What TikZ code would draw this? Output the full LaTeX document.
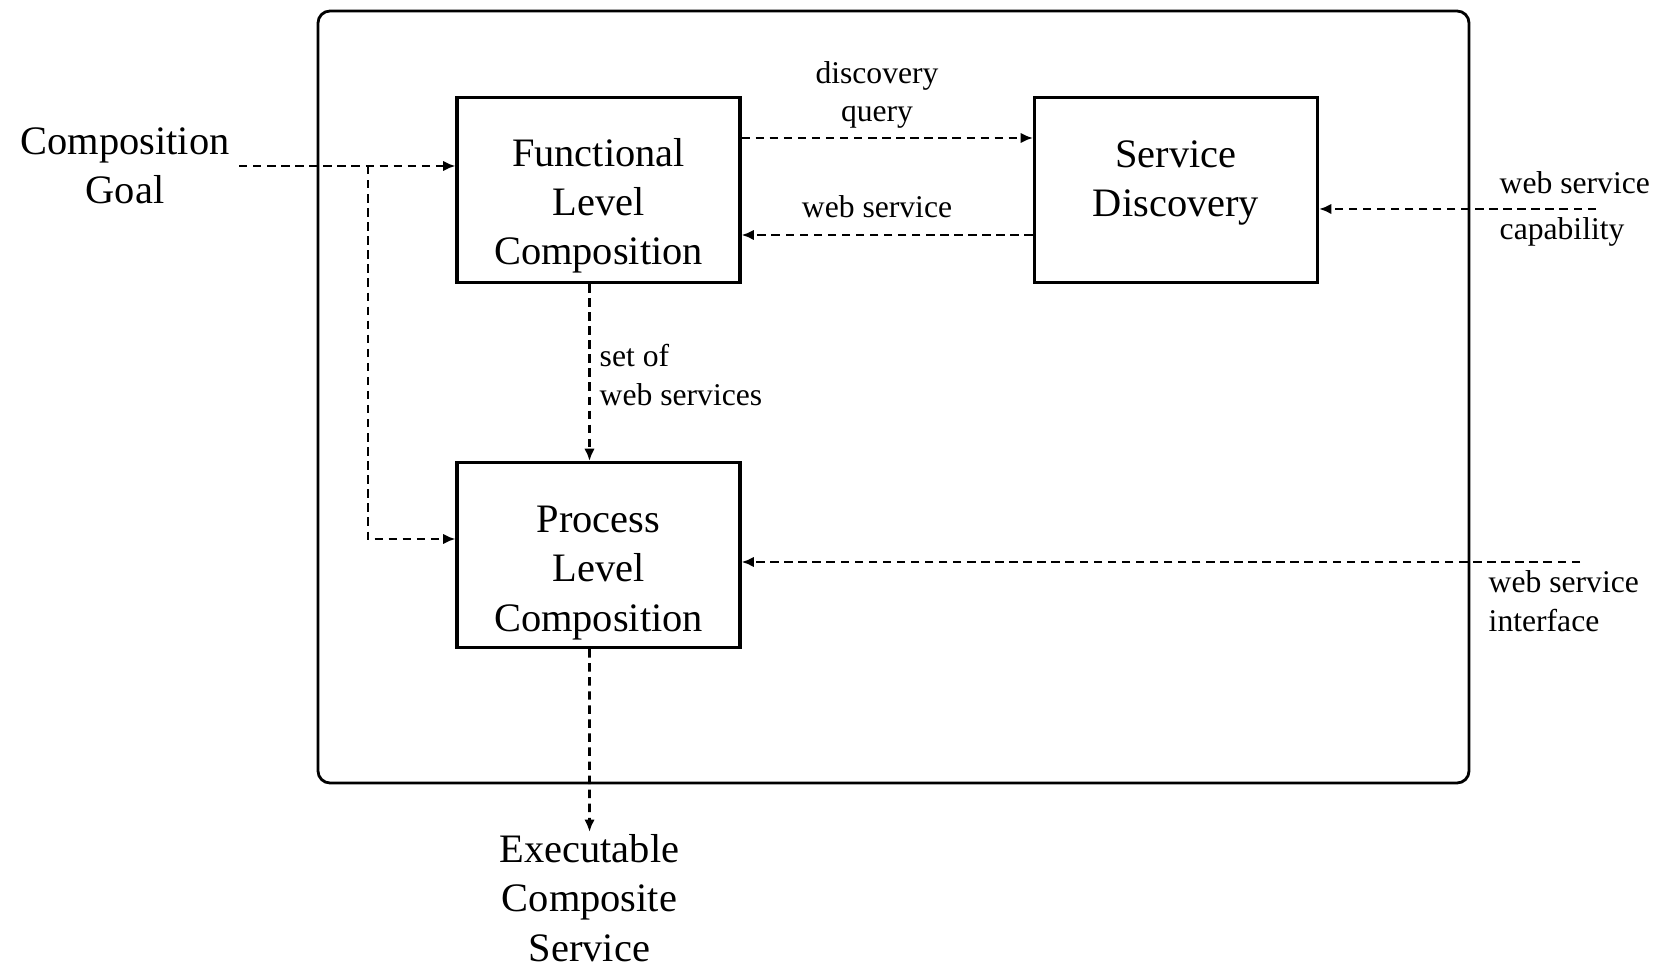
\documentclass[tikz,border=0pt]{standalone}
\usepackage{fontspec}
\setmainfont{Liberation Serif}
\usetikzlibrary{arrows.meta}
\begin{document}
\begin{tikzpicture}[>={Latex[length=3.5pt,width=3pt]}]
        \tikzstyle{block}=[draw=black,line width=0.9pt,minimum width=2.83cm,minimum height=1.85cm]
        \tikzstyle{blocktext}=[align=center,font=\fontsize{11.5}{14}\selectfont]
        \tikzstyle{flow}=[draw,->,line width=0.75pt,dash pattern=on 2.4pt off 1.6pt]
        \tikzstyle{big}=[align=center,font=\fontsize{11.5}{14}\selectfont,inner sep=0pt]
        \tikzstyle{small}=[font=\fontsize{9}{11}\selectfont,inner sep=0pt]
        \useasboundingbox (0,0) rectangle (16.63,-9.65);
        % frame
        \draw[line width=0.8pt,rounded corners=0.12cm] (3.18,-0.11) rectangle (14.69,-7.83);
        % blocks
        \node [block,label={[blocktext,yshift=-1.6mm]center:Functional\\Level\\Composition}] (flc) at (5.985,-1.90) {};
        \node [block,label={[blocktext,yshift=0.7mm]center:Service\\Discovery}] (sd) at (11.76,-1.90) {};
        \node [block,label={[blocktext,yshift=-1.8mm]center:Process\\Level\\Composition}] (plc) at (5.985,-5.55) {};
        % outside texts
        \node [big] (goal) at (1.25,-1.66) {Composition\\Goal};
        \node [big] (exe) at (5.895,-8.98) {Executable\\Composite\\Service};
        \coordinate (gs) at (2.39,-1.66);
        \coordinate (br) at (3.68,-1.66);
        \coordinate (cap) at (15.96,-2.09);
        \coordinate (ifc) at (15.80,-5.62);
        % connectors
        \path[flow] (gs) -- (flc.west |- gs);
        \path[flow] (br) |- ([yshift=1.6mm]plc.west);
        \path[flow] ([yshift=5.2mm]flc.east) -- ([yshift=5.2mm]sd.west);
        \path[flow] ([yshift=-4.5mm]sd.west) -- ([yshift=-4.5mm]flc.east);
        \path[flow] (cap) -- (sd.east |- cap);
        \path[flow] (ifc) -- (plc.east |- ifc);
        \path[flow] ([xshift=-0.9mm]flc.south) -- ([xshift=-0.9mm]plc.north);
        \path[flow] ([xshift=-0.9mm]plc.south) -- ([yshift=0.2mm]exe.north);
        % labels
        \node [small,align=center] (dq) at (8.77,-0.95) {discovery\\query};
        \node [small,align=center] (ws) at (8.77,-2.07) {web service};
        \node [small,align=left,anchor=west] (wsc) at (14.99,-2.09) {web service\\[2pt]capability};
        \node [small,align=left,anchor=west] (wsi) at (14.88,-6.01) {web service\\interface};
        \node [small,align=left,anchor=west] (sws) at (5.99,-3.75) {set of\\web services};
\end{tikzpicture}
\end{document}
